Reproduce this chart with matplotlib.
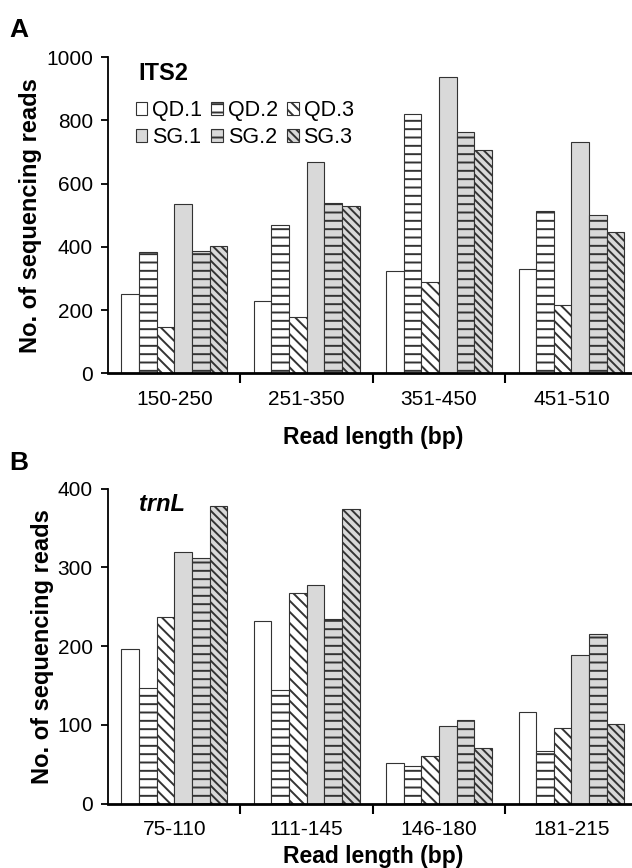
import numpy as np
import matplotlib
matplotlib.use("Agg")
import matplotlib.pyplot as plt

plt.rcParams['font.family'] = ['Liberation Sans', 'DejaVu Sans']
plt.rcParams['hatch.linewidth'] = 1.4
plt.rcParams['hatch.color'] = '#222222'

series = ["QD.1", "QD.2", "QD.3", "SG.1", "SG.2", "SG.3"]

its2_cats = ["150-250", "251-350", "351-450", "451-510"]
its2_qd1 = [250, 230, 325, 330]
its2_qd2 = [385, 468, 820, 515]
its2_qd3 = [147, 178, 288, 215]
its2_sg1 = [537, 668, 938, 733]
its2_sg2 = [388, 540, 762, 502]
its2_sg3 = [402, 530, 707, 448]

trnl_cats = ["75-110", "111-145", "146-180", "181-215"]
trnl_qd1 = [196, 232, 52, 117]
trnl_qd2 = [147, 145, 48, 67]
trnl_qd3 = [237, 267, 61, 96]
trnl_sg1 = [320, 278, 99, 189]
trnl_sg2 = [312, 234, 106, 215]
trnl_sg3 = [378, 374, 71, 101]

faces = ["white", "white", "white", "#d9d9d9", "#d9d9d9", "#d9d9d9"]
hatches = [None, "--", "\\\\\\", None, "--", "\\\\\\\\"]

fig = plt.figure(figsize=(6.32, 8.68), dpi=100)
axA = fig.add_axes([0.171, 0.570, 0.838, 0.364])
axB = fig.add_axes([0.171, 0.074, 0.838, 0.363])


def draw(ax, cats, data, ymax, step, label, italic, legend, xpad):
    x = np.arange(len(cats))
    w = 0.8 / 6
    handles = []
    for i, vals in enumerate(data):
        b = ax.bar(x - 0.4 + w * (i + 0.5), vals, w, color=faces[i],
                   edgecolor="#333333", linewidth=0.8, hatch=hatches[i],
                   label=series[i])
        handles.append(b)
    ax.set_xlim(-0.5, len(cats) - 0.5)
    ax.set_ylim(0, ymax)
    ax.set_yticks(np.arange(0, ymax + 1, step))
    ax.set_xticks(x)
    ax.set_xticklabels(cats, fontsize=15)
    ax.set_xticks(np.arange(0.5, len(cats) - 0.5, 1), minor=True)
    ax.tick_params(axis="x", which="major", length=0, pad=12)
    ax.tick_params(axis="x", which="minor", length=7, width=1.5, direction="out")
    ax.tick_params(axis="y", labelsize=15, length=5, width=1.3, pad=6)
    for s in ["top", "right"]:
        ax.spines[s].set_visible(False)
    ax.spines["left"].set_linewidth(1.3)
    ax.spines["bottom"].set_linewidth(2)
    ax.set_xlabel("Read length (bp)", fontsize=16.5, fontweight="bold", labelpad=xpad)
    ax.set_ylabel("No. of sequencing reads", fontsize=17, fontweight="bold", labelpad=3)
    ax.text(0.058, 0.985, label, transform=ax.transAxes, fontsize=17,
            fontweight="bold", style="italic" if italic else "normal", va="top")
    if legend:
        order = [0, 3, 1, 4, 2, 5]
        ax.legend([handles[k] for k in order], [series[k] for k in order],
                  ncol=3, loc="upper left", bbox_to_anchor=(0.052, 0.865),
                  borderaxespad=0, borderpad=0, frameon=False, fontsize=15.5,
                  handlelength=0.55, handleheight=0.55, handletextpad=0.2,
                  columnspacing=0.45, labelspacing=0.28)


draw(axA, its2_cats, [its2_qd1, its2_qd2, its2_qd3, its2_sg1, its2_sg2, its2_sg3],
     1000, 200, "ITS2", False, True, 12)
draw(axB, trnl_cats, [trnl_qd1, trnl_qd2, trnl_qd3, trnl_sg1, trnl_sg2, trnl_sg3],
     400, 100, "trnL", True, False, 4)

fig.text(0.015, 0.957, "A", fontsize=19, fontweight="bold")
fig.text(0.015, 0.459, "B", fontsize=19, fontweight="bold")

fig.savefig("out.png", dpi=100)
